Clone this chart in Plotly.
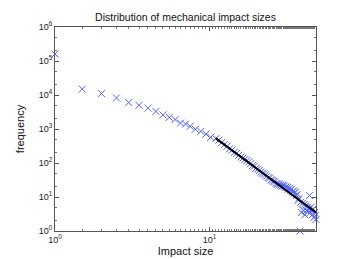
import plotly.graph_objects as go
import math

# Measured data: impact size vs frequency
head_x = [1, 1.5, 2, 2.5, 3, 3.5, 4, 4.5, 5, 5.5, 6, 6.5, 7, 7.5, 8.1, 8.8, 9.5, 10.2]
head_y = [1.6e5, 1.5e4, 1.1e4, 8.2e3, 6.0e3, 5.0e3, 4.1e3, 3.3e3, 2.6e3, 2.2e3,
          1.9e3, 1.5e3, 1.4e3, 1.2e3, 980, 850, 710, 570]

tail_x = [11, 11.5, 12, 12.5, 13, 13.5, 14, 14.5, 15, 15.5, 16, 16.5, 17, 17.5, 18,
          18.5, 19, 19.5, 20, 20.5, 21, 21.5, 22, 22.5, 23, 23.5, 24, 24.5, 25, 25.5,
          26, 26.5, 27, 27.5, 28, 28.5, 29, 29.5, 30, 30.5, 31, 31.5, 32, 32.5, 33,
          33.5, 34, 34.5, 35, 35.5, 36, 36.5, 37, 37.5, 38, 38.5, 39, 39.5, 40, 40.5,
          41, 41.5, 42, 42.5, 43, 43.5, 44, 44.5, 45, 45.5, 46, 46.5, 47, 47.5, 48,
          48.5, 49]
tail_y = [520, 470, 400, 345, 310, 262, 240, 205, 190, 170, 150, 140, 128, 118, 108,
          96, 84, 80, 70, 66, 60, 54, 50, 48, 44, 41, 37, 36, 32, 31,
          29, 28, 25, 24, 24, 23, 22, 21, 22, 21, 19, 20, 19, 17, 18,
          16, 17, 14, 15, 13, 14, 11, 12, 8, 9, 1, 7, 3.5, 6.5, 4,
          6, 3, 5.5, 4, 5, 3.8, 4.5, 11, 3.5, 5, 4, 3, 4.5, 2.5, 3.5,
          2.8, 2.2]

# Power-law fit line endpoints
fit_x = [11, 49]
fit_y = [530, 3.5]

x_ticks = [1, 10]
x_ticklabels = ["10<sup>0</sup>", "10<sup>1</sup>"]
y_ticks = [1, 10, 100, 1e3, 1e4, 1e5, 1e6]
y_ticklabels = ["10<sup>%d</sup>" % i for i in range(7)]

sizes = head_x + tail_x
freqs = head_y + tail_y

x_range = [1, 49]
y_range = [1, 1e6]

fig = go.Figure()
fig.add_trace(go.Scatter(
    x=sizes, y=freqs, mode="markers", cliponaxis=False,
    marker=dict(symbol="x-thin", size=7, line=dict(color="rgb(80,100,255)", width=1)),
    showlegend=False))
fig.add_trace(go.Scatter(
    x=fit_x, y=fit_y, mode="lines", line=dict(color="black", width=2),
    showlegend=False))

axis_common = dict(
    type="log", showgrid=False, zeroline=False, showline=True, linecolor="#555555",
    linewidth=1, mirror="ticks", ticks="inside", ticklen=4, tickcolor="#555555",
    tickfont=dict(family="Liberation Sans", size=9, color="#222222"),
    minor=dict(ticks="inside", ticklen=2, tickcolor="#777777", showgrid=False),
)

fig.update_xaxes(range=[math.log10(x_range[0]), math.log10(x_range[1])],
                 tickmode="array", tickvals=x_ticks, ticktext=x_ticklabels,
                 title=dict(text="Impact size", standoff=3,
                            font=dict(family="Liberation Sans", size=11, color="#111111")),
                 **axis_common)
fig.update_yaxes(range=[math.log10(y_range[0]), math.log10(y_range[1])],
                 tickmode="array", tickvals=y_ticks, ticktext=y_ticklabels,
                 title=dict(text="frequency", standoff=11,
                            font=dict(family="Liberation Sans", size=11, color="#111111")),
                 **axis_common)

fig.update_layout(
    width=340, height=259,
    margin=dict(l=44, r=32, t=19, b=29),
    paper_bgcolor="white", plot_bgcolor="white",
    title=dict(text="Distribution of mechanical impact sizes", x=0.5, xref="paper",
               xanchor="center", y=1 - 9 / 259, yanchor="middle",
               font=dict(family="Liberation Sans", size=10.5, color="#111111")),
)

fig.write_html("out.html")
